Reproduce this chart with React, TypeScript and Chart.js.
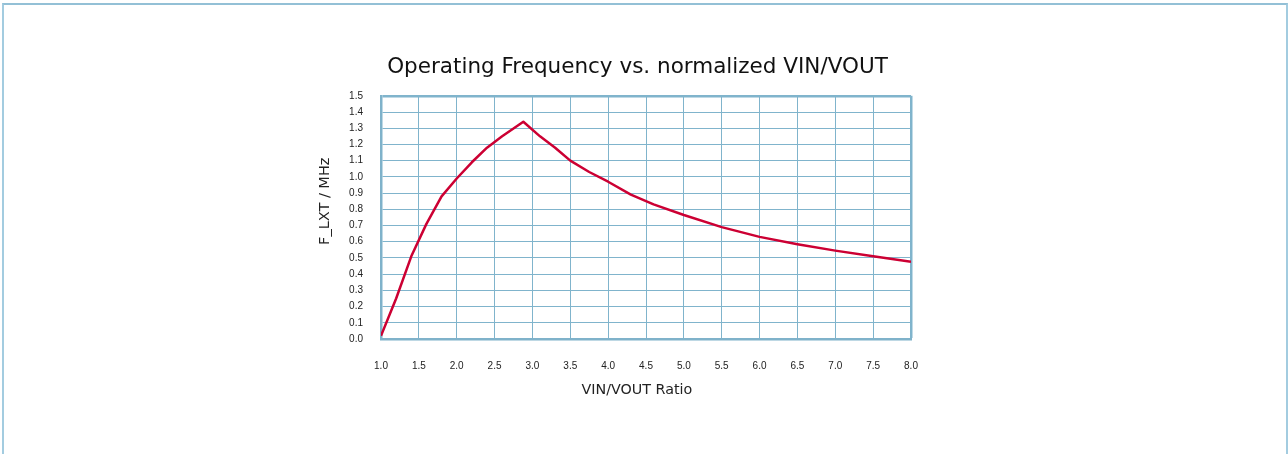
import React, { useEffect, useRef } from "react";
import { Chart, registerables } from "chart.js";

Chart.register(...registerables);

const chartTitle = "Operating Frequency vs. normalized VIN/VOUT";
const xAxisTitle = "VIN/VOUT Ratio";
const yAxisTitle = "F_LXT / MHz";

const ratioValues = [1.0, 1.2, 1.4, 1.6, 1.8, 2.0, 2.2, 2.4, 2.6, 2.88, 3.1, 3.3, 3.5, 3.75, 4.0, 4.3, 4.6, 5.0, 5.5, 6.0, 6.5, 7.0, 7.5, 8.0];
const freqValues = [0.02, 0.25, 0.51, 0.71, 0.88, 0.99, 1.09, 1.18, 1.25, 1.34, 1.25, 1.18, 1.1, 1.03, 0.97, 0.89, 0.83, 0.765, 0.69, 0.63, 0.585, 0.545, 0.51, 0.477];

const xMin = 1.0;
const xMax = 8.0;
const xStep = 0.5;
const yMin = 0.0;
const yMax = 1.5;
const yStep = 0.1;

const gridColor = "#80b4cc";
const borderColor = "#7fb2ca";
const lineColor = "#cc0033";

export default function App() {
  const canvasRef = useRef<HTMLCanvasElement | null>(null);

  useEffect(() => {
    const canvas = canvasRef.current;
    if (!canvas) return;
    const chart = new Chart(canvas, {
      type: "line",
      data: {
        datasets: [
          {
            data: ratioValues.map((x, i) => ({ x, y: freqValues[i] })),
            borderColor: lineColor,
            borderWidth: 2.5,
            pointRadius: 0,
            tension: 0,
            fill: false,
            borderJoinStyle: "round",
          },
        ],
      },
      options: {
        animation: false,
        responsive: false,
        layout: { padding: { left: 300, right: 313, top: 0, bottom: 0 } },
        plugins: {
          legend: { display: false },
          tooltip: { enabled: false },
          title: {
            display: true,
            text: chartTitle,
            color: "#111",
            font: { family: "DejaVu Sans", size: 21.5, weight: "normal", lineHeight: 1.2 },
            padding: { top: 54.5, bottom: 15.5 },
          },
        },
        scales: {
          x: {
            type: "linear",
            min: xMin,
            max: xMax,
            afterFit: (scale: any) => {
              scale.height = 115;
            },
            ticks: {
              stepSize: xStep,
              autoSkip: false,
              maxRotation: 0,
              padding: 21,
              color: "#222",
              font: { family: "Liberation Sans", size: 10 },
              callback: (v: any) => Number(v).toFixed(1),
            },
            grid: {
              color: gridColor,
              lineWidth: (ctx: any) => (ctx.tick && ctx.tick.value === xMax ? 2.5 : 1),
              drawTicks: false,
            },
            border: { display: true, color: borderColor, width: 2.5 },
            title: {
              display: true,
              text: xAxisTitle + "    ",
              color: "#222",
              font: { family: "DejaVu Sans", size: 14.3 },
              padding: { top: 0, bottom: 55.6 },
            },
          },
          y: {
            type: "linear",
            position: "left",
            min: yMin,
            max: yMax,
            afterFit: (scale: any) => {
              scale.width = 81;
            },
            ticks: {
              stepSize: yStep,
              autoSkip: false,
              padding: 18,
              color: "#222",
              font: { family: "Liberation Sans", size: 10 },
              callback: (v: any) => Number(v).toFixed(1),
            },
            grid: {
              color: gridColor,
              lineWidth: (ctx: any) => (ctx.tick && Math.abs(ctx.tick.value - yMax) < 1e-9 ? 2.5 : 1),
              drawTicks: false,
            },
            border: { display: true, color: borderColor, width: 2.5 },
            title: {
              display: true,
              text: "       " + yAxisTitle,
              color: "#222",
              font: { family: "DejaVu Sans", size: 14.5 },
              padding: { top: 16.3, bottom: 0 },
            },
          },
          yRight: {
            type: "linear",
            position: "right",
            min: yMin,
            max: yMax,
            afterFit: (scale: any) => {
              scale.width = 64;
            },
            ticks: { display: false },
            grid: { display: false, drawTicks: false },
            border: { display: false },
          },
        },
      },
    });
    return () => chart.destroy();
  }, []);

  return (
    <div style={{ position: "fixed", left: 0, top: 0, width: 1288, height: 454, overflow: "hidden", background: "#fff" }}>
      <div
        style={{
          position: "absolute",
          left: 2,
          top: 3,
          width: 1282,
          height: 520,
          border: "2px solid #a3cce0",
          borderTopColor: "#93c0d6",
        }}
      />
      <canvas ref={canvasRef} width={1288} height={454} style={{ position: "absolute", left: 0, top: 0 }} />
    </div>
  );
}
